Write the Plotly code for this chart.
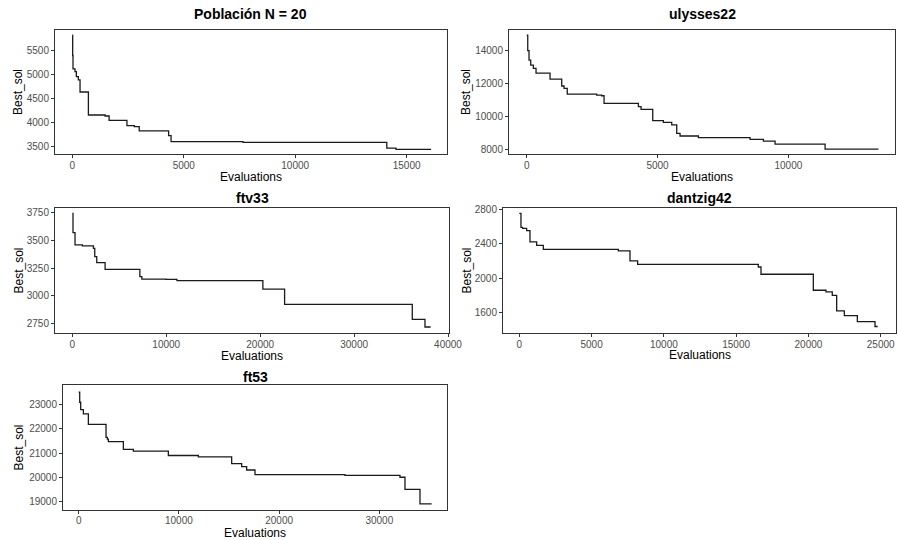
import plotly.graph_objects as go

# ---- data ----
titles = ["Población N = 20", "ulysses22", "ftv33", "dantzig42", "ft53"]

evals_p20 = [0, 15, 30, 120, 180, 270, 345, 720, 1470, 1650, 2450, 2780, 3000,
             4320, 4430, 7660, 14110, 14520, 16100]
best_p20 = [5824, 5400, 5120, 5065, 4960, 4890, 4640, 4160, 4140, 4050, 3940, 3920,
            3830, 3730, 3605, 3590, 3470, 3445, 3445]

evals_uly = [0, 40, 89, 153, 255, 357, 892, 1338, 1427, 1550, 2675, 2866, 2956,
             4268, 4370, 4816, 5223, 5542, 5733, 5860, 6561, 8536, 9045, 9491,
             11402, 13441]
best_uly = [14950, 14000, 13430, 13130, 12930, 12640, 12280, 11860, 11720, 11370,
            11310, 11270, 10810, 10610, 10440, 9760, 9660, 9500, 8990, 8830, 8730,
            8630, 8520, 8340, 8040, 8040]

evals_ftv = [0, 71, 285, 1068, 2242, 2385, 2598, 3488, 7189, 7403, 9965, 11140,
             20286, 22600, 36195, 37547, 38152]
best_ftv = [3744, 3570, 3459, 3450, 3429, 3354, 3300, 3240, 3173, 3152, 3149, 3137,
            3062, 2924, 2789, 2720, 2720]

evals_dan = [0, 115, 230, 507, 738, 1199, 1660, 6849, 7656, 8186, 16534, 16719,
             20339, 21215, 21650, 21953, 22484, 23383, 24605, 24790]
best_dan = [2750, 2588, 2577, 2550, 2420, 2380, 2334, 2315, 2199, 2160, 2129, 2045,
            1860, 1840, 1800, 1620, 1566, 1497, 1440, 1440]

evals_ft53 = [0, 100, 200, 466, 965, 2727, 2860, 2960, 4457, 5455, 8947, 11940,
              15266, 16264, 16763, 17594, 26575, 32063, 32562, 34059, 35223]
best_ft53 = [23515, 23100, 22800, 22620, 22190, 21650, 21580, 21470, 21150, 21080,
             20900, 20840, 20560, 20440, 20300, 20110, 20080, 20000, 19500, 18900,
             18900]

x_dticks = [5000, 5000, 10000, 5000, 10000]
y_dticks = [500, 2000, 250, 400, 1000]

series = [(evals_p20, best_p20), (evals_uly, best_uly), (evals_ftv, best_ftv),
          (evals_dan, best_dan), (evals_ft53, best_ft53)]

# ---- layout geometry (pixels) ----
W, H = 898, 540
panels_px = [  # left, right, top, bottom
    (55, 447, 30, 154),
    (509, 895, 30, 154),
    (55, 449, 208, 333),
    (503, 896, 208, 333),
    (63, 447, 385, 510),
]
x_ranges = [(-778, 16811), (-676, 14073), (-1847, 40105), (-1128, 26058), (-1567, 36756)]
y_ranges = [(3348, 5931), (7739, 15255), (2666, 3792), (1365, 2812), (18646, 23814)]
title_y_px = [14, 14, 198, 198, 377]
xtitle_y_px = [177, 177, 356, 355, 532.5]
ytitle_x_px = [18, 466, 18, 466, 18]
xlabel_standoff = [-1, -1, -1, -1, -2]

FONT = "Liberation Sans, Arial, sans-serif"
BORDER = "#333333"

fig = go.Figure()
layout = dict(
    width=W, height=H, margin=dict(l=0, r=0, t=0, b=0),
    paper_bgcolor="white", plot_bgcolor="white", showlegend=False,
    font=dict(family=FONT),
)
annotations = []

for i, ((xs, ys), (l, r, t, b)) in enumerate(zip(series, panels_px)):
    n = "" if i == 0 else str(i + 1)
    fig.add_trace(go.Scatter(
        x=xs, y=ys, mode="lines", line=dict(shape="hv", color="#1a1a1a", width=1.3),
        xaxis="x" + n, yaxis="y" + n, hoverinfo="skip"))
    common = dict(showgrid=False, zeroline=False, showline=True, mirror=True,
                  linecolor=BORDER, linewidth=1, ticks="outside", ticklen=3,
                  tickcolor=BORDER, tickwidth=1, automargin=False,
                  tickfont=dict(family=FONT, size=10, color="#4d4d4d"),
                  tickformat="d")
    layout["xaxis" + n] = dict(
        common, domain=[l / W, r / W], anchor="y" + n, range=list(x_ranges[i]),
        dtick=x_dticks[i], tick0=0, ticklabelstandoff=xlabel_standoff[i])
    layout["yaxis" + n] = dict(
        common, domain=[1 - b / H, 1 - t / H], anchor="x" + n, range=list(y_ranges[i]),
        dtick=y_dticks[i], tick0=0)
    cx = (l + r) / 2 / W
    annotations.append(dict(
        text="<b>%s</b>" % titles[i], x=cx, y=1 - title_y_px[i] / H,
        xref="paper", yref="paper", xanchor="center", yanchor="middle",
        showarrow=False, font=dict(family=FONT, size=14, color="black")))
    annotations.append(dict(
        text="Evaluations", x=cx, y=1 - xtitle_y_px[i] / H, borderpad=0,
        xref="paper", yref="paper", xanchor="center", yanchor="middle",
        showarrow=False, font=dict(family=FONT, size=12, color="black")))
    annotations.append(dict(
        text="Best_sol", x=ytitle_x_px[i] / W, y=1 - (t + b) / 2 / H, textangle=-90,
        xref="paper", yref="paper", xanchor="center", yanchor="middle",
        showarrow=False, font=dict(family=FONT, size=12, color="black")))

layout["annotations"] = annotations
fig.update_layout(**layout)
fig.write_html("out.html")
